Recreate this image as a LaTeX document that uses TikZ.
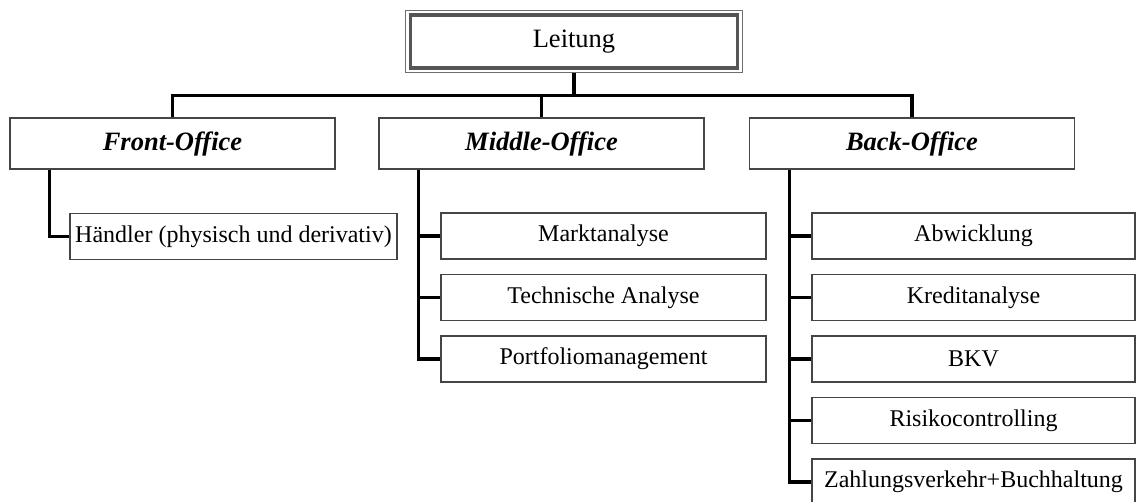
\documentclass[tikz,border=0pt]{standalone}
\usepackage{fontspec}
\setmainfont{Liberation Serif}
\definecolor{boxline}{HTML}{454545}
\definecolor{leadline}{HTML}{555555}
\begin{document}
\begin{tikzpicture}[x=1pt,y=-1pt,
  head/.style={draw=boxline, line width=1.5pt, minimum width=325pt, minimum height=51pt,
    inner sep=0pt, font=\fontsize{26.5}{30}\selectfont\bfseries\itshape},
  unit/.style={draw=boxline, line width=1.5pt, minimum width=325pt, minimum height=46pt,
    inner sep=0pt, font=\fontsize{24}{28}\selectfont},
  link/.style={black, line width=3.2pt}]
\useasboundingbox (0,0) rectangle (1140,502);

% top of the hierarchy: double frame
\node[draw=leadline!85, line width=1.3pt, minimum width=337pt, minimum height=62pt,
  inner sep=0pt, font=\fontsize{26.5}{30}\selectfont] (lead) at (574,41.5) {Leitung};
\draw[leadline, line width=3.5pt] ([shift={(5.5,5)}]lead.north west)
  rectangle ([shift={(-5.5,-5)}]lead.south east);

% departments
\node[head] (front) at (172.5,143.5) {Front-Office};
\node[head] (mid)   at (541.5,143.5) {Middle-Office};
\node[head] (back)  at (912,143.5)   {Back-Office};

% units
\node[unit, minimum width=327pt] (hae) at (233.5,236.5) {Händler (physisch und derivativ)};

\node[unit] (mka)  at (603.5,236)   {Marktanalyse};
\node[unit] (tech) at (603.5,297.5) {Technische Analyse};
\node[unit] (port) at (603.5,359)   {Portfoliomanagement};

\node[unit, minimum width=323pt] (abw)  at (973.5,236)   {Abwicklung};
\node[unit, minimum width=323pt] (kred) at (973.5,297.5) {Kreditanalyse};
\node[unit, minimum width=323pt] (bkv)  at (973.5,359)   {BKV};
\node[unit, minimum width=323pt] (risk) at (973.5,420.5) {Risikocontrolling};
\node[unit, minimum width=323pt] (zahl) at (973.5,482)   {Zahlungsverkehr+Buchhaltung};

% bus below the top box
\draw[link] (lead.south) -- ++(0,23.5);
\draw[link] (front.north) -- ++(0,-22) -| (back.north);
\draw[link] (mid.north) -- ++(0,-22);

% department to units
\draw[link] (front.south west) ++(40,0) |- (hae.west);

\draw[link] (mid.south west) ++(40,0) coordinate (mv) |- (port.west);
\draw[link] (mv |- mka.west) -- (mka.west);
\draw[link] (mv |- tech.west) -- (tech.west);

\draw[link] (back.south west) ++(41,0) coordinate (bv) |- (zahl.west);
\draw[link] (bv |- abw.west) -- (abw.west);
\draw[link] (bv |- kred.west) -- (kred.west);
\draw[link] (bv |- bkv.west) -- (bkv.west);
\draw[link] (bv |- risk.west) -- (risk.west);
\end{tikzpicture}
\end{document}
